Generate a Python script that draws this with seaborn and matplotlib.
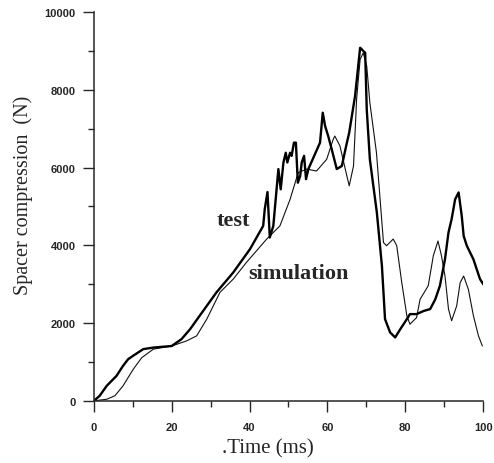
import numpy as np
import pandas as pd
import matplotlib
matplotlib.use("Agg")
import matplotlib.pyplot as plt
import seaborn as sns

# test curve (thick)
test_t = [0, 1.5, 3.3, 5.8, 7.5, 8.8, 10.1, 12.7, 15.3, 20, 22.5, 24.7, 27.2, 31.5,
          35.8, 40.1, 43.5, 43.9, 44.6, 45.2, 46.1, 47.4, 48, 48.7, 49.3, 49.7,
          50.4, 50.8, 51.4, 51.9, 52.4, 53, 53.4, 54, 54.5, 55.1, 58.1, 58.8,
          59.4, 60.2, 61.1, 62.4, 63.7, 65, 65.6, 67.1, 68.4, 69.7, 70.1, 70.9,
          72.7, 74, 74.8, 76.1, 77.4, 78.7, 80.4, 81.2, 82.9, 84.7, 86.4, 87.7,
          88.9, 90.2, 91.1, 91.9, 92.8, 93.7, 94.5, 95, 95.8, 97.5, 99.2, 100.9]
test_f = [0, 130, 385, 640, 900, 1070, 1160, 1330, 1370, 1410, 1585, 1840, 2190, 2790,
          3300, 3900, 4500, 4930, 5370, 4200, 4500, 5960, 5440, 6130, 6380, 6130,
          6380, 6300, 6640, 6640, 5610, 5780, 6130, 6300, 5700, 5960, 6640, 7410,
          7070, 6810, 6470, 5960, 6040, 6640, 6900, 7840, 9080, 8950, 7500, 6210,
          4840, 3470, 2100, 1760, 1630, 1840, 2100, 2230, 2230, 2310, 2360, 2610,
          2960, 3640, 4330, 4670, 5180, 5360, 4760, 4240, 3990, 3640, 3130, 2870]

# simulation curve (thin)
sim_t = [0, 3.3, 5.4, 7.5, 10.1, 12.3, 15.3, 20, 23.8, 26.4, 29, 32.4, 35.8, 39.2,
         44.4, 47.8, 50.4, 52.5, 54.7, 57.2, 59.8, 61.5, 61.9, 63.2, 65, 65.6,
         66.7, 67.5, 68.4, 69.2, 70.1, 70.9, 72.6, 74.4, 75.2, 76.9, 77.8, 79.1,
         80.4, 81.2, 82.9, 83.8, 85.9, 87.2, 88.4, 89.3, 90.2, 91.1, 91.9, 93.2,
         94.1, 95, 96.2, 97.5, 98.8, 99.8]
sim_f = [0, 40, 130, 385, 810, 1110, 1330, 1410, 1540, 1670, 2100, 2790, 3130, 3560,
         4160, 4500, 5180, 5870, 5960, 5910, 6210, 6730, 6810, 6560, 5780, 5530,
         6040, 7760, 8780, 8950, 8610, 7670, 6380, 4070, 3990, 4160, 3990, 3040,
         2190, 1970, 2140, 2610, 2960, 3730, 4110, 3730, 3210, 2360, 2060, 2440,
         3040, 3210, 2870, 2190, 1670, 1410]

x_ticks = [0, 20, 40, 60, 80, 100]
y_ticks = [0, 2000, 4000, 6000, 8000, 10000]

sns.set_style("ticks")
plt.rcParams["font.family"] = ["Liberation Serif", "DejaVu Serif"]

test = pd.DataFrame({"t": test_t, "f": test_f})
sim = pd.DataFrame({"t": sim_t, "f": sim_f})

fig = plt.figure(figsize=(4.94, 4.64), dpi=100)
ax = fig.add_axes([0.19, 0.134, 0.788, 0.838])

sns.lineplot(data=sim, x="t", y="f", ax=ax, color="#111111", linewidth=0.8, sort=False)
sns.lineplot(data=test, x="t", y="f", ax=ax, color="black", linewidth=1.7, sort=False)

ax.set_xlim(0, 100)
ax.set_ylim(0, 10000)
ax.set_xticks(x_ticks)
ax.set_yticks(y_ticks)
ax.set_xticks([10, 30, 50, 70, 90], minor=True)
ax.set_yticks([1000, 3000, 5000, 7000, 9000], minor=True)
ax.tick_params(axis="x", which="major", length=8, width=1, direction="out", pad=7)
ax.tick_params(axis="y", which="major", length=8, width=1, direction="out", pad=5)
ax.tick_params(which="minor", length=4, width=1, direction="out")
for lab in ax.get_xticklabels() + ax.get_yticklabels():
    lab.set_family("Liberation Sans")
    lab.set_fontweight("bold")
    lab.set_fontsize(8)

ax.spines["top"].set_visible(False)
ax.spines["right"].set_visible(False)
ax.spines["left"].set_linewidth(1.1)
ax.spines["bottom"].set_linewidth(1.1)

ax.set_xlabel(".Time (ms)", fontsize=15)
ax.set_ylabel("Spacer compression  (N)", fontsize=14.5)
ax.xaxis.set_label_coords(0.447, -0.095)
ax.yaxis.set_label_coords(-0.157, 0.53)

ax.text(35.8, 4650, "test", fontsize=16, fontweight="bold", ha="center", va="center")
ax.text(39.6, 3290, "simulation", fontsize=16, fontweight="bold", ha="left", va="center")

fig.savefig("out.png", dpi=100)
